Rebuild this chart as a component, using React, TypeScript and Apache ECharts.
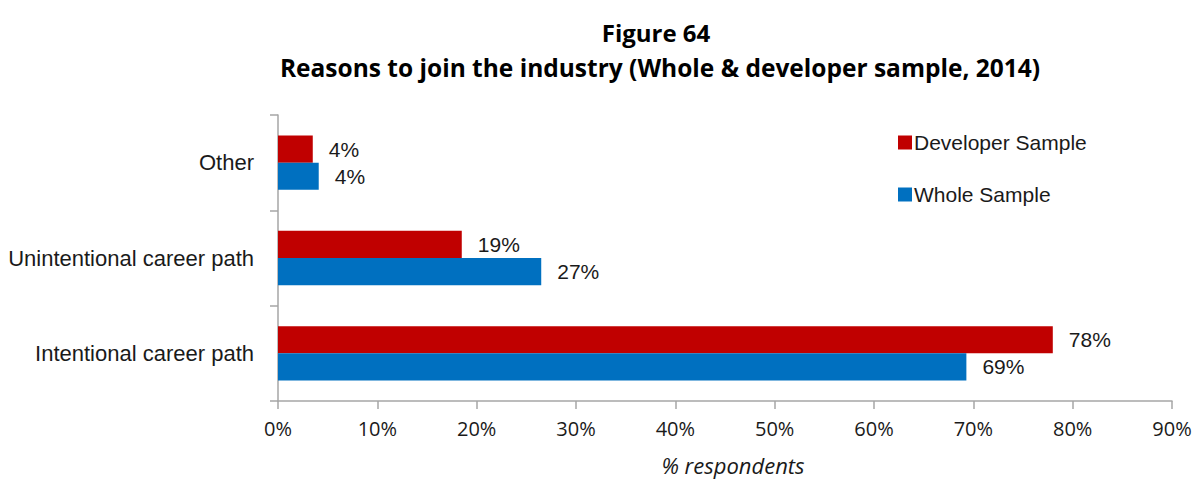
import React, { useEffect, useRef } from "react";
import * as echarts from "echarts";

const categories = ["Intentional career path", "Unintentional career path", "Other"];
const developerSample = [78.0, 18.5, 3.5];
const wholeSample = [69.3, 26.5, 4.1];
const xTicks = [0, 10, 20, 30, 40, 50, 60, 70, 80, 90];

const NARROW = "'Liberation Sans Narrow', 'Arial Narrow', 'Liberation Sans', sans-serif";

export default function App() {
  const ref = useRef<HTMLDivElement>(null);
  useEffect(() => {
    const chart = echarts.init(ref.current!, null, { renderer: "svg" });
    const label = {
      show: true,
      position: "right",
      distance: 16,
      fontFamily: NARROW,
      fontSize: 21,
      color: "#1a1a1a",
      formatter: (p: any) => Math.round(p.value) + "%",
    };
    chart.setOption({
      animation: false,
      backgroundColor: "#ffffff",
      title: [
        {
          text: "Figure 64",
          left: 651,
          top: 15,
          textAlign: "center",
          textStyle: { fontFamily: "'Open Sans'", fontWeight: "bold", fontSize: 24, color: "#000" },
        },
        {
          text: "Reasons to join the industry (Whole & developer sample, 2014)",
          left: 655,
          top: 50,
          textAlign: "center",
          textStyle: { fontFamily: "'Open Sans'", fontWeight: "bold", fontSize: 24.5, color: "#000" },
        },
      ],
      legend: {
        orient: "vertical",
        left: 893,
        top: 127,
        itemWidth: 14,
        itemHeight: 14,
        itemGap: 31,
        icon: "rect",
        data: ["Developer Sample", "Whole Sample"],
        textStyle: { fontFamily: NARROW, fontSize: 21, color: "#1a1a1a", padding: [0, 0, 0, -3] },
      },
      grid: { left: 278, right: 26, top: 115, bottom: 86, containLabel: false },
      xAxis: {
        type: "value",
        min: 0,
        max: 90,
        interval: 10,
        axisLine: { show: true, lineStyle: { color: "#a6a6a6", width: 1.5 } },
        axisTick: { show: true, length: 8, lineStyle: { color: "#a6a6a6", width: 1.5 } },
        splitLine: { show: false },
        axisLabel: {
          margin: 17,
          fontFamily: "'Open Sans', sans-serif",
          fontSize: 20,
          color: "#1a1a1a",
          formatter: (v: number) => (xTicks.includes(v) ? v + "%" : ""),
        },
        name: "% respondents",
        nameLocation: "middle",
        nameGap: 53,
        nameTextStyle: {
          fontFamily: "'Open Sans', sans-serif",
          fontStyle: "italic",
          fontSize: 22,
          color: "#1a1a1a",
          padding: [0, 0, 0, 16],
        },
      },
      yAxis: {
        type: "category",
        data: categories,
        axisLine: { show: true, lineStyle: { color: "#a6a6a6", width: 1.5 } },
        axisTick: { show: true, length: 8, lineStyle: { color: "#a6a6a6", width: 1.5 } },
        axisLabel: { margin: 24, fontFamily: NARROW, fontSize: 22, color: "#1a1a1a" },
      },
      series: [
        {
          name: "Developer Sample",
          type: "bar",
          data: developerSample,
          itemStyle: { color: "#C00000" },
          barGap: "0%",
          barCategoryGap: "43%",
          label,
        },
        {
          name: "Whole Sample",
          type: "bar",
          data: wholeSample,
          itemStyle: { color: "#0070C0" },
          barGap: "0%",
          barCategoryGap: "43%",
          label,
        },
      ],
    });
    return () => chart.dispose();
  }, []);
  return (
    <div
      ref={ref}
      style={{ position: "fixed", left: 0, top: 0, width: 1198, height: 487, background: "#fff" }}
    />
  );
}
